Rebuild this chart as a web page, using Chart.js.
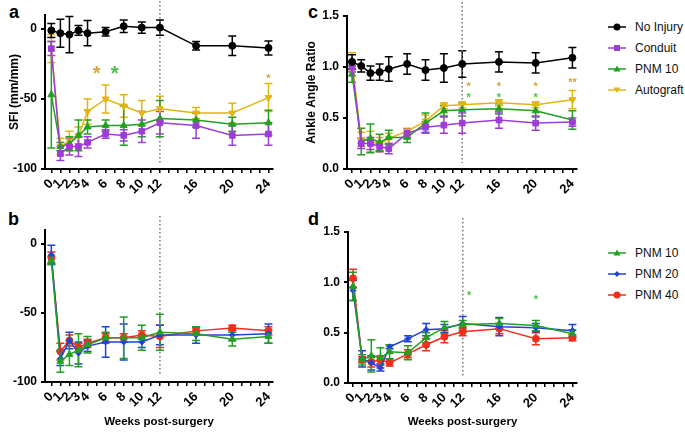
<!DOCTYPE html>
<html>
<head>
<meta charset="utf-8">
<script src="https://cdn.jsdelivr.net/npm/chart.js@4/dist/chart.umd.min.js"></script>
<style>
  body { margin: 0; width: 685px; height: 432px; position: relative; background: #fff; overflow: hidden; font-family: "Liberation Sans", Arial, sans-serif; }
  canvas { position: absolute; }
  .letter { position: absolute; font-weight: bold; font-size: 18px; line-height: 18px; color: #000; }
  .leg { position: absolute; left: 608px; height: 14px; display: flex; align-items: center; font-size: 12px; color: #111; white-space: nowrap; }
  .leg svg { margin-right: 8px; }
</style>
</head>
<body>
<div class="letter" style="left:9px;top:3px">a</div>
<div class="letter" style="left:8px;top:210px">b</div>
<div class="letter" style="left:308px;top:3px">c</div>
<div class="letter" style="left:308px;top:210px">d</div>
<canvas id="chartA" width="280" height="210" style="left:0;top:0"></canvas>
<canvas id="chartC" width="310" height="210" style="left:280px;top:0"></canvas>
<canvas id="chartB" width="280" height="222" style="left:0;top:210px"></canvas>
<canvas id="chartD" width="310" height="222" style="left:280px;top:210px"></canvas>
<div id="legendTop"></div>
<div id="legendBottom"></div>
<script>
"use strict"

// weeks post-surgery where measurements were taken
const weeks = [0, 1, 2, 3, 4, 6, 8, 10, 12, 16, 20, 24];
const xTickLabels = [0, 1, 2, 3, 4, 6, 8, 10, 12, 16, 20, 24];
const xTickMarks = [0, 1, 2, 3, 4, 5, 6, 7, 8, 9, 10, 11, 12, 13, 14, 15, 16, 17, 18, 19, 20, 21, 22, 23, 24];
const sfiTicks = [-100, -50, 0];
const ratioTicks = [0, 0.5, 1, 1.5];

// panel a - SFI
const sfiNoInjury = [-1, -3, -4, -1, -3, -2, 2, 1, 1, -12, -12, -13.5];
const sfiNoInjuryErr = [5, 10, 13, 3.5, 9, 3, 4.5, 4, 5.5, 3, 7, 5];
const sfiConduit = [-14, -89, -84, -84, -81, -75, -76, -73, -67, -69, -76, -75];
const sfiConduitErr = [5, 5, 6, 7, 4, 3, 4, 8, 8, 9, 7, 8];
const sfiPnm10 = [-47, -84, -82, -76, -70, -69, -69, -68, -64, -65, -68, -67];
const sfiPnm10Err = [38, 3, 5, 11, 5, 4, 14, 9, 13, 5, 5, 9];
const sfiAutograft = [-14, -84, -80, -76, -59, -50, -55, -60, -57, -60, -60, -49];
const sfiAutograftErr = [10, 6, 7, 6, 9, 10, 8, 9, 9, 4, 7, 10];

// panel c - ankle angle ratio
const ratioNoInjury = [1.05, 1.01, 0.94, 0.95, 0.98, 1.03, 0.97, 0.99, 1.03, 1.05, 1.04, 1.09];
const ratioNoInjuryErr = [0.07, 0.06, 0.07, 0.08, 0.12, 0.1, 0.1, 0.14, 0.13, 0.1, 0.1, 0.1];
const ratioConduit = [1.0, 0.25, 0.25, 0.22, 0.2, 0.35, 0.41, 0.43, 0.45, 0.48, 0.45, 0.46];
const ratioConduitErr = [0.05, 0.05, 0.06, 0.05, 0.05, 0.04, 0.05, 0.08, 0.1, 0.08, 0.07, 0.04];
const ratioPnm10 = [0.93, 0.27, 0.3, 0.26, 0.31, 0.31, 0.45, 0.57, 0.58, 0.59, 0.57, 0.48];
const ratioPnm10Err = [0.08, 0.13, 0.14, 0.08, 0.07, 0.05, 0.1, 0.05, 0.06, 0.05, 0.06, 0.09];
const ratioAutograft = [1.05, 0.29, 0.27, 0.24, 0.3, 0.37, 0.47, 0.62, 0.63, 0.65, 0.63, 0.68];
const ratioAutograftErr = [0.09, 0.07, 0.1, 0.07, 0.05, 0.03, 0.06, 0.03, 0.03, 0.03, 0.03, 0.09];

// panel b - SFI by PNM dose
const sfiDose10 = [-12, -85, -80, -77, -73, -68, -68, -68, -64, -65, -69, -67];
const sfiDose10Err = [3, 8, 8, 12, 6, 4, 15, 9, 13, 5, 5, 5];
const sfiDose20 = [-8, -83, -70, -79, -74, -71, -71, -71, -66, -66, -66, -65];
const sfiDose20Err = [7, 5, 6, 8, 4, 11, 13, 4, 7, 6, 4, 7];
const sfiDose40 = [-10, -78, -70, -75, -72, -68, -68, -66, -67, -63, -61, -63];
const sfiDose40Err = [4, 6, 4, 3, 3, 3, 3, 3, 8, 2, 2, 3];

// panel d - ankle angle ratio by PNM dose
const ratioDose10 = [0.96, 0.23, 0.27, 0.25, 0.31, 0.30, 0.45, 0.55, 0.58, 0.59, 0.57, 0.49];
const ratioDose10Err = [0.14, 0.05, 0.16, 0.1, 0.07, 0.07, 0.05, 0.06, 0.04, 0.05, 0.05, 0.04];
const ratioDose20 = [0.92, 0.24, 0.2, 0.15, 0.36, 0.44, 0.53, 0.54, 0.59, 0.56, 0.55, 0.52];
const ratioDose20Err = [0.1, 0.08, 0.07, 0.03, 0.02, 0.03, 0.06, 0.04, 0.07, 0.09, 0.04, 0.06];
const ratioDose40 = [1.04, 0.23, 0.21, 0.23, 0.2, 0.29, 0.38, 0.46, 0.51, 0.54, 0.44, 0.45];
const ratioDose40Err = [0.09, 0.03, 0.05, 0.04, 0.03, 0.04, 0.06, 0.06, 0.04, 0.05, 0.06, 0.03];

// significance marks (week, value level, text)
const starsAWeek = [5, 7, 24];
const starsALevel = [-29, -29, -34];
const starsAText = ["*", "*", "*"];
const starsCWeek = [12.7, 12.7, 16, 16, 20, 20, 24];
const starsCLevel = [0.83, 0.72, 0.83, 0.72, 0.83, 0.72, 0.87];
const starsCText = ["*", "*", "*", "*", "*", "*", "**"];
const starsDWeek = [12.7, 20];
const starsDLevel = [0.89, 0.85];
const starsDText = ["*", "*"];

const FONT = "'Liberation Sans', Arial, sans-serif";
const BLACK = "#000000";
const PURPLE = "#9d3cd6";
const GREEN = "#22a022";
const GOLD = "#e3b512";
const BLUE = "#2342d8";
const RED = "#ef2f1c";
const GOLD_STAR = "#d6a63c";
const GREEN_STAR = "#44c444";

function toPoints(values) {
    return values.map((v, i) => ({ x: weeks[i], y: v }));
}

function series(label, values, err, color, style, rotation, radius) {
    return {
        label: label,
        data: toPoints(values),
        err: err,
        borderColor: color,
        backgroundColor: color,
        borderWidth: 1.5,
        pointStyle: style,
        rotation: rotation,
        pointRadius: radius,
        pointBorderWidth: 1,
        tension: 0,
    };
}

const errorBars = {
    id: "errorBars",
    beforeDatasetsDraw(chart) {
        const ctx = chart.ctx;
        const x = chart.scales.x;
        const y = chart.scales.y;
        for (let d = chart.data.datasets.length - 1; d >= 0; d--) {
            const ds = chart.data.datasets[d];
            ctx.save();
            ctx.strokeStyle = ds.borderColor;
            ctx.lineWidth = 1.5;
            ds.data.forEach((p, i) => {
                const px = x.getPixelForValue(p.x);
                const top = y.getPixelForValue(p.y + ds.err[i]);
                const bot = y.getPixelForValue(p.y - ds.err[i]);
                ctx.beginPath();
                ctx.moveTo(px, top);
                ctx.lineTo(px, bot);
                ctx.moveTo(px - 4, top);
                ctx.lineTo(px + 4, top);
                ctx.moveTo(px - 4, bot);
                ctx.lineTo(px + 4, bot);
                ctx.stroke();
            });
            ctx.restore();
        }
    }
};

const week12Line = {
    id: "week12Line",
    beforeDatasetsDraw(chart) {
        const ctx = chart.ctx;
        const px = chart.scales.x.getPixelForValue(12);
        const area = chart.chartArea;
        ctx.save();
        ctx.strokeStyle = "#777";
        ctx.lineWidth = 1.5;
        ctx.setLineDash([1.5, 2.5]);
        ctx.beginPath();
        ctx.moveTo(px, Math.max(area.top - 14, 0));
        ctx.lineTo(px, area.bottom - 6);
        ctx.stroke();
        ctx.restore();
    }
};

const starMarks = {
    id: "starMarks",
    afterDatasetsDraw(chart, args, opts) {
        if (!opts.weeks) return;
        const ctx = chart.ctx;
        const x = chart.scales.x;
        const y = chart.scales.y;
        opts.weeks.forEach((wk, i) => {
            ctx.save();
            ctx.fillStyle = opts.colors[i];
            ctx.font = "bold " + opts.sizes[i] + "px " + FONT;
            ctx.textAlign = "center";
            const m = ctx.measureText(opts.text[i]);
            const cy = y.getPixelForValue(opts.levels[i]);
            ctx.fillText(opts.text[i], x.getPixelForValue(wk), cy + (m.actualBoundingBoxAscent - m.actualBoundingBoxDescent) / 2);
            ctx.restore();
        });
    }
};

function makeChart(id, datasets, yMin, yMax, yTicks, yTitle, yTitlePad, xTitle, box, stars) {
    return new Chart(document.getElementById(id), {
        type: "line",
        data: { datasets: datasets },
        plugins: [errorBars, week12Line, starMarks],
        options: {
            responsive: false,
            animation: false,
            layout: { padding: { left: 0, top: box.top, right: box.right, bottom: 0 } },
            plugins: {
                legend: { display: false },
                tooltip: { enabled: false },
                starMarks: stars,
            },
            scales: {
                x: {
                    type: "linear",
                    min: box.xMin,
                    max: 24.5,
                    afterBuildTicks: s => { s.ticks = xTickMarks.map(v => ({ value: v })); },
                    afterFit: s => { s.height = box.xHeight; s.paddingLeft = 0; s.paddingRight = 0; },
                    grid: { drawOnChartArea: false, drawTicks: true, tickLength: 4, color: "#000", lineWidth: 1.5 },
                    border: { color: "#000", width: 2 },
                    ticks: {
                        autoSkip: false,
                        minRotation: 45,
                        maxRotation: 45,
                        padding: 3,
                        color: "#000",
                        font: { family: FONT, weight: "bold", size: 13 },
                        callback: v => xTickLabels.includes(v) ? String(v) : "",
                    },
                    title: {
                        display: !!xTitle,
                        text: xTitle,
                        color: "#000",
                        font: { family: FONT, weight: "bold", size: 11.5 },
                        padding: { top: 3, bottom: 3 },
                    },
                },
                y: {
                    min: yMin,
                    max: yMax,
                    afterBuildTicks: s => { s.ticks = yTicks.map(v => ({ value: v })); },
                    afterFit: s => { s.width = box.yWidth; s.paddingTop = 0; s.paddingBottom = 0; },
                    grid: { drawOnChartArea: false, drawTicks: true, tickLength: 4, color: "#000", lineWidth: 2 },
                    border: { color: "#000", width: 2 },
                    ticks: {
                        padding: 4,
                        color: "#000",
                        font: { family: FONT, weight: "bold", size: 12 },
                        callback: v => yMax < 5 ? Number(v).toFixed(1) : String(v),
                    },
                    title: {
                        display: !!yTitle,
                        text: yTitle,
                        color: "#000",
                        font: { family: FONT, weight: "bold", size: 12 },
                        padding: { top: yTitlePad, bottom: 0 },
                    },
                },
            },
        },
    });
}

function styleOf(label, color, style, rotation, radius) {
    return { label, color, style, rotation, radius };
}

const topStyles = [
    styleOf("No Injury", BLACK, "circle", 0, 3.5),
    styleOf("Conduit", PURPLE, "rect", 0, 4),
    styleOf("PNM 10", GREEN, "triangle", 0, 4),
    styleOf("Autograft", GOLD, "triangle", 180, 4),
];
const bottomStyles = [
    styleOf("PNM 10", GREEN, "triangle", 0, 4),
    styleOf("PNM 20", BLUE, "rectRot", 0, 3),
    styleOf("PNM 40", RED, "circle", 0, 3.5),
];

function build(styles, values, errs) {
    return styles.map((s, i) => series(s.label, values[i], errs[i], s.color, s.style, s.rotation, s.radius));
}

makeChart("chartA",
    build(topStyles, [sfiNoInjury, sfiConduit, sfiPnm10, sfiAutograft], [sfiNoInjuryErr, sfiConduitErr, sfiPnm10Err, sfiAutograftErr]),
    -100, 10, sfiTicks, "SFI (mm/mm)", 7, "",
    { top: 15, right: 7, yWidth: 45, xHeight: 41, xMin: -0.7 },
    { weeks: starsAWeek, levels: starsALevel, text: starsAText, colors: [GOLD_STAR, GREEN_STAR, GOLD_STAR], sizes: [20, 20, 11] });

makeChart("chartC",
    build(topStyles, [ratioNoInjury, ratioConduit, ratioPnm10, ratioAutograft], [ratioNoInjuryErr, ratioConduitErr, ratioPnm10Err, ratioAutograftErr]),
    0, 1.5, ratioTicks, "Ankle Angle Ratio", 24, "",
    { top: 16, right: 13, yWidth: 67, xHeight: 41, xMin: -0.55 },
    { weeks: starsCWeek, levels: starsCLevel, text: starsCText,
      colors: [GOLD_STAR, GREEN_STAR, GOLD_STAR, GREEN_STAR, GOLD_STAR, GREEN_STAR, GOLD_STAR], sizes: [11, 11, 11, 11, 11, 11, 11] });

makeChart("chartB",
    build(bottomStyles, [sfiDose10, sfiDose20, sfiDose40], [sfiDose10Err, sfiDose20Err, sfiDose40Err]),
    -100, 10, sfiTicks, "", 0, "Weeks post-surgery",
    { top: 20, right: 7, yWidth: 45, xHeight: 50, xMin: -0.7 },
    {});

makeChart("chartD",
    build(bottomStyles, [ratioDose10, ratioDose20, ratioDose40], [ratioDose10Err, ratioDose20Err, ratioDose40Err]),
    0, 1.5, ratioTicks, "", 0, "Weeks post-surgery",
    { top: 22, right: 13, yWidth: 68, xHeight: 49, xMin: -0.55 },
    { weeks: starsDWeek, levels: starsDLevel, text: starsDText, colors: [GREEN_STAR, GREEN_STAR], sizes: [11, 11] });

function markerSvg(s) {
    let shape = "";
    if (s.style === "circle") shape = `<circle cx="9" cy="5" r="3.5" fill="${s.color}"/>`;
    else if (s.style === "rect") shape = `<rect x="6" y="2" width="6" height="6" fill="${s.color}"/>`;
    else if (s.style === "rectRot") shape = `<polygon points="9,2 12,5 9,8 6,5" fill="${s.color}"/>`;
    else if (s.rotation === 180) shape = `<polygon points="5.5,2.5 12.5,2.5 9,8" fill="${s.color}"/>`;
    else shape = `<polygon points="9,1.5 12.5,7.5 5.5,7.5" fill="${s.color}"/>`;
    return `<svg width="19" height="10"><line x1="0" y1="5" x2="18" y2="5" stroke="${s.color}" stroke-width="1.5"/>${shape}</svg>`;
}

function renderLegend(containerId, styles, firstRow) {
    const box = document.getElementById(containerId);
    styles.forEach((s, i) => {
        const row = document.createElement("div");
        row.className = "leg";
        row.style.top = (firstRow + i * 21 - 7) + "px";
        row.innerHTML = markerSvg(s) + "<span>" + s.label + "</span>";
        box.appendChild(row);
    });
}

renderLegend("legendTop", topStyles, 27);
renderLegend("legendBottom", bottomStyles, 253);
</script>
</body>
</html>
